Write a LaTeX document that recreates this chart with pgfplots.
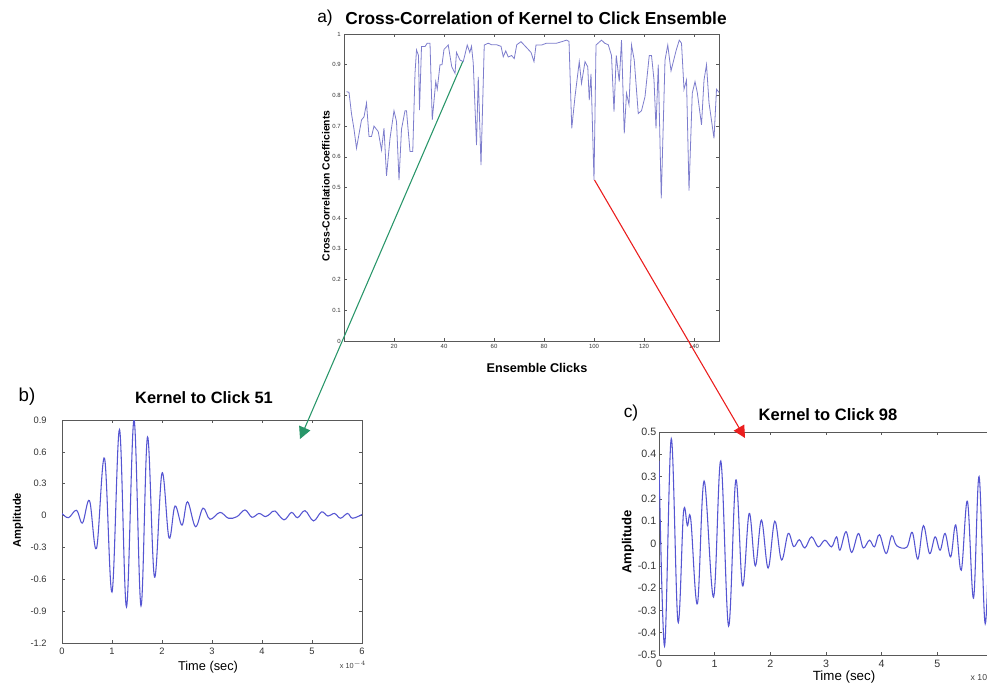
\documentclass[border=0pt]{standalone}
\usepackage{fontspec}
\setmainfont{Liberation Sans}
\usepackage{pgfplots}
\pgfplotsset{compat=1.18}
\usetikzlibrary{arrows.meta}
\definecolor{curveA}{RGB}{125,125,205}
\definecolor{curveB}{RGB}{85,85,210}
\definecolor{arrG}{RGB}{40,150,105}
\definecolor{arrR}{RGB}{235,30,30}
\pgfplotsset{matlab/.style={scale only axis, axis line style={black!65, line width=0.5pt},
  tick align=inside, major tick length=2.5pt, tick style={black!65, line width=0.4pt},
  /pgf/number format/assume math mode=true, clip=true, axis background/.style={fill=white}}}
\begin{document}
\begin{tikzpicture}[x=0.75pt,y=0.75pt]
\useasboundingbox (0,0) rectangle (987,683);
\clip (0,0) rectangle (987,683);
% ---------- panel a
\begin{axis}[matlab, at={(258pt,256.5pt)}, anchor=south west, width=281.25pt, height=230.25pt,
  xmin=0, xmax=150, ymin=0, ymax=1,
  xtick={20,40,...,140}, ytick={0,0.1,0.2,0.3,0.4,0.5,0.6,0.7,0.8,0.9,1},
  yticklabels={0,0.1,0.2,0.3,0.4,0.5,0.6,0.7,0.8,0.9,1},
  tick label style={font=\fontsize{4.5}{5}\selectfont, text=black!80},
  xticklabel style={yshift=1pt}, yticklabel style={xshift=1pt}]
\addplot[curveA, line width=0.6pt, no marks] coordinates {
(1,0.812)(2,0.81)(3,0.74)(4,0.69)(5,0.628)(7,0.72)(8,0.73)(9,0.775)(10,0.666)(11,0.666)
(12,0.70)(13.7,0.682)(15,0.622)(16,0.693)(17,0.538)(18.4,0.66)(20,0.75)(21,0.715)(22,0.524)
(23,0.69)(24.4,0.75)(25,0.75)(26.4,0.617)(27.5,0.617)(28.4,0.872)(29,0.948)(29.8,0.93)
(30.2,0.752)(31,0.959)(32.4,0.959)(33.3,0.97)(34.4,0.97)(35.3,0.72)(36.7,0.845)(37.3,0.82)
(38.4,0.90)(39.2,0.90)(40,0.95)(41.7,0.964)(43.1,0.893)(44.4,0.872)(45,0.94)(46.4,0.915)
(47.7,0.91)(49.3,0.964)(50.3,0.94)(51,0.96)(51.7,0.905)(53,0.638)(53.7,0.86)(54.8,0.573)
(56.1,0.964)(57.7,0.97)(59,0.965)(61,0.965)(62.8,0.96)(63.7,0.926)(64.7,0.945)(65.7,0.925)
(67,0.93)(68.1,0.92)(69.1,0.965)(70.8,0.975)(73.1,0.955)(74.8,0.94)(76,0.91)(76.8,0.964)
(79,0.964)(81,0.97)(83,0.97)(85,0.97)(87.1,0.975)(89,0.98)(90,0.976)(91.1,0.693)(92.4,0.796)
(94.1,0.91)(95,0.839)(96.4,0.91)(97.5,0.893)(98.1,0.785)(98.8,0.87)(100,0.524)(100.8,0.964)
(103,0.98)(104.3,0.97)(105.7,0.965)(107,0.93)(108,0.747)(108.9,0.93)(110.1,0.845)(111,0.98)
(112.1,0.676)(113,0.807)(114,0.77)(115,0.964)(116.1,0.915)(117.7,0.741)(119,0.75)(120.4,0.796)
(122.1,0.93)(123,0.93)(124,0.85)(124.8,0.693)(125.7,0.90)(126.9,0.465)(128.4,0.915)(129.5,0.964)
(130.8,0.88)(132.8,0.945)(134.1,0.98)(135,0.97)(136,0.82)(137,0.85)(138,0.49)(139.3,0.807)
(140.4,0.845)(141.3,0.81)(143,0.704)(144,0.85)(145,0.90)(146,0.776)(148,0.66)(149,0.82)(150,0.81)
};
\end{axis}
% ---------- panel b
\begin{axis}[matlab, at={(46.5pt,30pt)}, anchor=south west, width=225pt, height=167.25pt,
  xmin=0, xmax=6, ymin=-1.2, ymax=0.9,
  xtick={0,1,2,3,4,5,6}, ytick={-1.2,-0.9,-0.6,-0.3,0,0.3,0.6,0.9},
  yticklabels={-1.2,-0.9,-0.6,-0.3,0,0.3,0.6,0.9},
  tick label style={font=\fontsize{7}{8}\selectfont, text=black!80},
  yticklabel style={xshift=-8pt}]
\addplot[curveB, line width=0.8pt, no marks, smooth, tension=0.6] coordinates {
(0,0.02)(0.13,-0.02)(0.29,0.05)(0.41,-0.07)(0.55,0.14)(0.69,-0.31)(0.85,0.54)(1.0,-0.72)
(1.15,0.81)(1.29,-0.86)(1.44,0.90)(1.58,-0.85)(1.71,0.74)(1.85,-0.58)(2.0,0.40)(2.14,-0.21)
(2.26,0.09)(2.4,-0.09)(2.51,0.13)(2.67,-0.105)(2.82,0.07)(2.96,-0.035)(3.16,0.03)(3.33,-0.025)
(3.5,-0.01)(3.66,0.053)(3.8,-0.016)(3.94,0.02)(4.07,-0.01)(4.17,0.02)(4.26,0.043)(4.44,-0.04)
(4.59,0.03)(4.71,-0.02)(4.86,0.046)(5.03,-0.05)(5.19,0.035)(5.32,-0.005)(5.45,0.02)(5.57,-0.025)
(5.71,0.02)(5.81,-0.025)(6.0,0.01)
};
\end{axis}
% ---------- panel c
\begin{axis}[matlab, at={(494.25pt,21pt)}, anchor=south west, width=250.5pt, height=167.25pt,
  xmin=0, xmax=6, ymin=-0.5, ymax=0.5,
  xtick={0,1,2,3,4,5,6}, ytick={-0.5,-0.4,-0.3,-0.2,-0.1,0,0.1,0.2,0.3,0.4,0.5},
  yticklabels={-0.5,-0.4,-0.3,-0.2,-0.1,0,0.1,0.2,0.3,0.4,0.5},
  tick label style={font=\fontsize{8}{9}\selectfont, text=black!80},
  yticklabel style={xshift=1.5pt}]
\addplot[curveB, line width=0.8pt, no marks, smooth, tension=0.6] coordinates {
(0,0.37)(0.1,-0.46)(0.22,0.47)(0.34,-0.35)(0.44,0.14)(0.51,0.08)(0.57,0.11)(0.69,-0.27)
(0.81,0.28)(0.98,-0.24)(1.11,0.37)(1.25,-0.37)(1.38,0.285)(1.5,-0.19)(1.62,0.135)(1.73,-0.10)
(1.84,0.105)(1.96,-0.11)(2.08,0.10)(2.2,-0.074)(2.32,0.045)(2.42,-0.014)(2.52,0.017)(2.62,-0.02)
(2.74,0.03)(2.86,-0.015)(2.98,0.015)(3.1,-0.015)(3.19,0.03)(3.25,-0.03)(3.36,0.053)(3.46,-0.04)
(3.58,0.045)(3.67,-0.02)(3.78,0.015)(3.87,-0.015)(3.96,0.04)(4.08,-0.045)(4.18,0.035)(4.27,-0.01)
(4.45,-0.017)(4.55,0.05)(4.65,-0.07)(4.75,0.08)(4.86,-0.045)(4.96,0.03)(5.05,-0.03)(5.14,0.045)
(5.24,-0.06)(5.33,0.083)(5.43,-0.12)(5.54,0.19)(5.65,-0.245)(5.75,0.30)(5.86,-0.36)(5.96,0.25)(6.0,0.1)
};
\end{axis}
% ---------- titles and labels
\node[font=\fontsize{13}{15}\selectfont] at (325,665) {a)};
\node[font=\bfseries\fontsize{13}{15}\selectfont] at (536,665) {Cross-Correlation of Kernel to Click Ensemble};
\node[font=\bfseries\fontsize{7.8}{9}\selectfont, rotate=90] at (326,497) {Cross-Correlation Coefficients};
\node[font=\bfseries\fontsize{9.5}{11}\selectfont] at (537,315) {Ensemble Clicks};
\node[font=\fontsize{14}{16}\selectfont] at (27,286) {b)};
\node[font=\bfseries\fontsize{12.3}{14}\selectfont] at (204,285) {Kernel to Click 51};
\node[font=\bfseries\fontsize{8.3}{10}\selectfont, rotate=90] at (18,163) {Amplitude};
\node[font=\fontsize{9.6}{11}\selectfont] at (208,16) {Time (sec)};
\node[font=\fontsize{5.5}{6}\selectfont, text=black!75] at (353,18) {x 10$^{-4}$};
\node[font=\fontsize{13}{15}\selectfont] at (631,270) {c)};
\node[font=\bfseries\fontsize{12.4}{14}\selectfont] at (828,268) {Kernel to Click 98};
\node[font=\bfseries\fontsize{9.8}{11}\selectfont, rotate=90] at (628,141) {Amplitude};
\node[font=\fontsize{10}{12}\selectfont] at (844,6) {Time (sec)};
\node[font=\fontsize{6.5}{7}\selectfont, text=black!75, anchor=west] at (966,6) {x 10$^{-4}$};
% ---------- arrows
\draw[arrG, line width=0.8pt, -{Triangle[length=9pt,width=9pt]}] (462.7,621.3) -- (300,244);
\draw[arrR, line width=0.8pt, -{Triangle[length=9pt,width=9pt]}] (594.5,503) -- (745,245);
\end{tikzpicture}
\end{document}
